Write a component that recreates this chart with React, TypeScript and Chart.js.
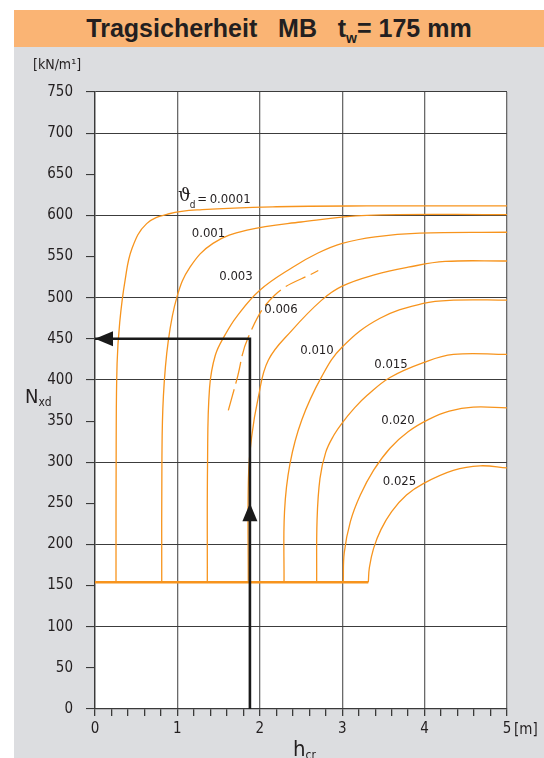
import React, { useEffect, useRef } from "react";
import { Chart, registerables } from "chart.js";

Chart.register(...registerables);

const NARROW = "'Liberation Sans Narrow', 'DejaVu Sans Condensed', 'Liberation Sans', Arial, sans-serif";
const SANS = "'Liberation Sans', Arial, Helvetica, sans-serif";
const SERIF = "'DejaVu Serif', 'Liberation Serif', serif";

const ORANGE_BAND = "#fab474";
const GRAY_BG = "#dcdde0";
const CURVE = "#f7941d";
const INK = "#231f20";

// axes
const xMin = 0;
const xMax = 5;
const xMinorStep = 0.2;
const yMin = 0;
const yMax = 750;
const yTickStep = 50;
const yGridStep = 100;

// curves: [h_cr (m), N_xd (kN/m)]
const baseline: [number, number][] = [[0, 154], [3.317, 154]];
const curve0001: [number, number][] = [
  [0.255, 154], [0.257, 320], [0.268, 420], [0.30, 470], [0.365, 521], [0.45, 560],
  [0.627, 590], [0.9, 602], [1.3, 607], [2.2, 610.5], [3.3, 611.5], [5, 611.5],
];
const curve001: [number, number][] = [
  [0.81, 154], [0.812, 300], [0.83, 380], [0.89, 448], [0.995, 501], [1.153, 537],
  [1.432, 566], [1.845, 582], [2.5, 592], [3.3, 600], [5, 601],
];
const curve003: [number, number][] = [
  [1.363, 154], [1.366, 300], [1.39, 390], [1.46, 430], [1.58, 455], [1.72, 477],
  [2.0, 509], [2.40, 537], [2.70, 554], [3.0, 566], [3.4, 574], [3.94, 578.5], [5, 579.5],
];
const curve006dashed: [number, number][] = [
  [1.618, 363], [1.72, 400], [1.86, 452], [2.18, 503], [2.71, 533],
];
const curve006: [number, number][] = [
  [1.86, 154], [1.862, 280], [1.90, 330], [1.982, 379], [2.103, 424], [2.387, 460],
  [2.751, 497], [3.0, 514], [3.4, 528], [3.8, 537], [4.25, 544], [5, 544.6],
];
const curve010: [number, number][] = [
  [2.294, 154], [2.30, 240], [2.366, 298], [2.508, 351], [2.751, 404], [3.0, 440],
  [3.459, 475], [3.984, 493], [4.35, 497], [5, 497],
];
const curve015: [number, number][] = [
  [2.69, 154], [2.695, 230], [2.73, 280], [2.80, 312], [2.90, 333], [2.994, 347],
  [3.15, 366], [3.30, 381], [3.58, 403], [3.984, 421], [4.35, 431], [5, 431],
];
const curve020: [number, number][] = [
  [3.013, 154], [3.025, 190], [3.10, 228], [3.22, 260], [3.38, 290], [3.58, 317],
  [3.80, 337], [4.05, 352], [4.30, 362], [4.59, 367], [5, 366],
];
const curve025: [number, number][] = [
  [3.317, 154], [3.33, 172], [3.38, 195], [3.47, 218], [3.60, 240], [3.78, 260],
  [3.984, 274], [4.348, 290], [4.672, 295.6], [5, 293],
];

// reading example (black guide)
const guidePath: [number, number][] = [[1.88, 0], [1.88, 450], [0, 450]];
const arrowTipH = [1.88, 0];
const arrowTipN = [250, 450];
const arrowDir = ["up", "left"];

// curve labels
const labelTexts = ["0.001", "0.003", "0.006", "0.010", "0.015", "0.020", "0.025"];
const labelH = [1.377, 1.711, 2.257, 2.694, 3.592, 3.677, 3.695];
const labelN = [578, 525, 486, 436, 419, 350, 276];
const firstLabelParts = ["ϑ", "d", "=", "0.0001"];
const firstLabelH = [1.086, 1.185, 1.30, 1.64];
const firstLabelN = [623, 612, 619.6, 619];

const isInt = (v: number) => Math.abs(v - Math.round(v)) < 1e-6;
const toXY = (arr: [number, number][]) => arr.map(([x, y]) => ({ x, y }));

const decorPlugin = {
  id: "decor",
  beforeDraw(chart: any) {
    const { ctx, chartArea: a } = chart;
    ctx.save();
    ctx.fillStyle = "#ffffff";
    ctx.fillRect(a.left, a.top, a.right - a.left, a.bottom - a.top);
    ctx.restore();
  },
  afterDatasetsDraw(chart: any) {
    const { ctx } = chart;
    const xs = chart.scales.x;
    const ys = chart.scales.y;
    ctx.save();
    ctx.fillStyle = INK;
    ctx.textAlign = "center";
    ctx.textBaseline = "middle";
    ctx.font = `13px ${NARROW}`;
    labelTexts.forEach((t, i) => {
      ctx.fillText(t, xs.getPixelForValue(labelH[i]), ys.getPixelForValue(labelN[i]));
    });
    const fonts = [`18px ${SERIF}`, `10px ${NARROW}`, `13px ${NARROW}`, `13px ${NARROW}`];
    firstLabelParts.forEach((t, i) => {
      ctx.font = fonts[i];
      ctx.fillText(t, xs.getPixelForValue(firstLabelH[i]), ys.getPixelForValue(firstLabelN[i]));
    });
    ctx.fillStyle = "#1a1a1a";
    arrowTipH.forEach((h, i) => {
      const px = xs.getPixelForValue(h);
      const py = ys.getPixelForValue(arrowTipN[i]);
      ctx.beginPath();
      if (arrowDir[i] === "up") {
        ctx.moveTo(px, py);
        ctx.lineTo(px - 7.5, py + 18);
        ctx.lineTo(px + 7.5, py + 18);
      } else {
        ctx.moveTo(px, py);
        ctx.lineTo(px + 18, py - 7.5);
        ctx.lineTo(px + 18, py + 7.5);
      }
      ctx.closePath();
      ctx.fill();
    });
    ctx.restore();
  },
};

export default function App() {
  const ref = useRef<HTMLCanvasElement>(null);

  useEffect(() => {
    if (!ref.current) return;
    const curveDs = (arr: [number, number][], extra: any = {}) => ({
      data: toXY(arr),
      showLine: true,
      borderColor: CURVE,
      borderWidth: 1.3,
      pointRadius: 0,
      tension: 0.4,
      fill: false,
      ...extra,
    });
    const chart = new Chart(ref.current, {
      type: "scatter",
      data: {
        datasets: [
          {
            data: toXY(guidePath),
            showLine: true,
            borderColor: "#1a1a1a",
            borderWidth: 2.6,
            pointRadius: 0,
            tension: 0,
            fill: false,
          } as any,
          curveDs(baseline, { borderWidth: 2.4, tension: 0 }),
          curveDs(curve0001),
          curveDs(curve001),
          curveDs(curve003),
          curveDs(curve006dashed, { borderDash: [22, 6] }),
          curveDs(curve006),
          curveDs(curve010),
          curveDs(curve015),
          curveDs(curve020),
          curveDs(curve025),
        ],
      },
      options: {
        animation: false,
        responsive: false,
        maintainAspectRatio: false,
        events: [],
        layout: { padding: { left: 0, top: 92, right: 37, bottom: 0 } },
        plugins: { legend: { display: false }, tooltip: { enabled: false } },
        scales: {
          x: {
            type: "linear",
            min: xMin,
            max: xMax,
            afterFit: (s: any) => { s.height = 49; },
            ticks: {
              stepSize: xMinorStep,
              autoSkip: false,
              maxRotation: 0,
              padding: 4,
              color: INK,
              font: { family: NARROW, size: 15 },
              callback: (v: any) => (isInt(Number(v)) ? String(Math.round(Number(v))) : ""),
            },
            grid: {
              color: (c: any) => (isInt(c.tick.value) ? "#6a6a6a" : "rgba(0,0,0,0)"),
              tickColor: "#3a3a3a",
              tickLength: 7,
              lineWidth: 1.3,
            },
            border: { display: true, color: "#3a3a3a", width: 1.3 },
          },
          y: {
            type: "linear",
            min: yMin,
            max: yMax,
            afterFit: (s: any) => { s.width = 95; },
            ticks: {
              stepSize: yTickStep,
              padding: 13,
              color: INK,
              font: { family: NARROW, size: 15 },
            },
            grid: {
              color: (c: any) =>
                c.tick.value % yGridStep === 0 || c.tick.value === yMax ? "#3c3c3c" : "rgba(0,0,0,0)",
              tickColor: "#3a3a3a",
              tickLength: 9,
              lineWidth: 1.1,
            },
            border: { display: true, color: "#3a3a3a", width: 1.3 },
          },
        },
      } as any,
      plugins: [decorPlugin],
    });
    return () => chart.destroy();
  }, []);

  return (
    <div style={{ position: "relative", width: 544, height: 758, background: "#fff", overflow: "hidden" }}>
      <style>{`html,body{margin:0;padding:0;}`}</style>
      <div style={{ position: "absolute", left: 14, top: 47, width: 530, height: 711, background: GRAY_BG }} />
      <div
        style={{
          position: "absolute",
          left: 14,
          top: 10,
          width: 530,
          height: 37,
          lineHeight: "37px",
          background: ORANGE_BAND,
          color: INK,
          fontFamily: SANS,
          fontWeight: "bold",
          fontSize: 25,
          textAlign: "center",
          whiteSpace: "pre",
        }}
      >
        {"Tragsicherheit   MB   t"}
        <span style={{ fontSize: 14, position: "relative", top: 6 }}>w</span>
        {"= 175 mm"}
      </div>
      <canvas
        ref={ref}
        width={544}
        height={758}
        style={{ position: "absolute", left: 0, top: 0, width: 544, height: 758 }}
      />
      <div style={{ position: "absolute", left: 33, top: 57, fontFamily: NARROW, fontSize: 14, lineHeight: 1, color: INK, whiteSpace: "pre" }}>
        [kN/m¹]
      </div>
      <div style={{ position: "absolute", left: 25, top: 386, fontFamily: NARROW, fontSize: 20, lineHeight: 1, color: INK, whiteSpace: "pre" }}>
        N<span style={{ fontSize: 12, position: "relative", top: 3 }}>xd</span>
      </div>
      <div style={{ position: "absolute", left: 293, top: 738, fontFamily: NARROW, fontSize: 22, lineHeight: 1, color: INK, whiteSpace: "pre" }}>
        h<span style={{ fontSize: 12, position: "relative", top: 3 }}>cr</span>
      </div>
      <div style={{ position: "absolute", left: 514, top: 722, fontFamily: NARROW, fontSize: 15, lineHeight: 1, color: INK, whiteSpace: "pre" }}>
        [m]
      </div>
    </div>
  );
}
